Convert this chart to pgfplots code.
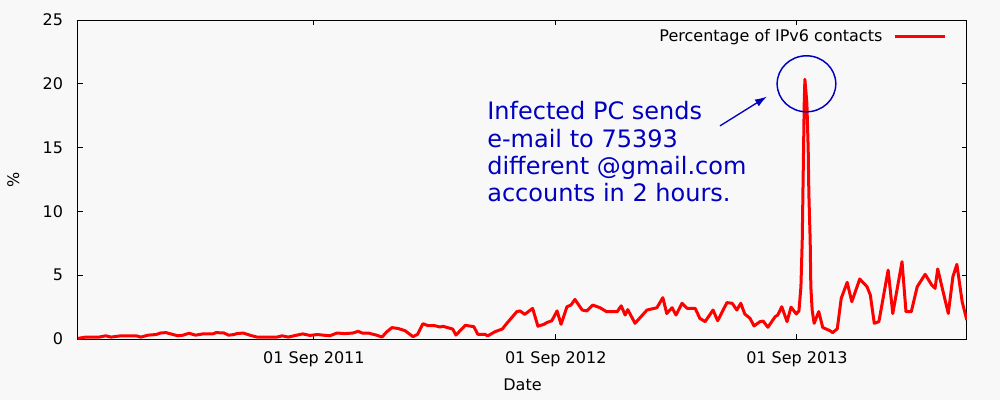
\documentclass[border=0pt]{standalone}
\usepackage{fontspec}
\setmainfont{DejaVu Sans}
\usepackage{pgfplots}
\pgfplotsset{compat=1.18}
\usetikzlibrary{arrows.meta}
\definecolor{bg}{RGB}{248,248,248}
\definecolor{annblue}{RGB}{0,0,190}
\begin{document}
\begin{tikzpicture}
\path[fill=bg,use as bounding box] (-58.5pt,-45.75pt) rectangle (691.5pt,254.25pt);
\begin{axis}[
  at={(0pt,0pt)}, anchor=south west,
  scale only axis, width=666.75pt, height=239.25pt,
  xmin=-357, xmax=988.3, ymin=0, ymax=25,
  xtick={0,366,731},
  xticklabels={01 Sep 2011, 01 Sep 2012, 01 Sep 2013},
  ytick={0,5,10,15,20,25},
  minor tick num=0,
  tick align=inside, xtick pos=both, ytick pos=both,
  major tick length=3.75pt,
  every tick/.style={black, line width=0.75pt},
  axis line style={black, line width=0.75pt},
  /pgf/number format/assume math mode=true,
  font=\fontsize{12}{14.4}\selectfont,
  ticklabel style={font=\fontsize{12}{14.4}\selectfont},
  yticklabel style={anchor=east, inner sep=0pt, xshift=-11pt},
  xticklabel style={anchor=north, inner sep=0pt, yshift=-9pt},
  xlabel={Date},
  ylabel={\%},
  xlabel style={at={(axis description cs:0.5,0)}, anchor=center, yshift=-34.5pt},
  ylabel style={at={(axis description cs:0,0.5)}, anchor=center, inner sep=0pt, yshift=48.5pt},
  legend plot pos=right,
  legend style={at={(axis description cs:1,1)}, anchor=north east, draw=none, fill=none,
    inner sep=0pt, xshift=-15.5pt, yshift=-6.5pt, column sep=8pt,
    nodes={inner sep=0pt}, font=\fontsize{12}{14.4}\selectfont},
  legend image code/.code={\draw[#1] (0pt,0pt) -- (37.5pt,0pt);},
  clip mode=individual,
]
\addplot[red, line width=2.25pt, line join=round] coordinates {
(-357,0.05) (-345,0.15) (-325,0.15) (-315,0.25) (-307,0.15) (-292,0.25) (-269,0.25)
(-262,0.15) (-251,0.3) (-239,0.35) (-232,0.47) (-224,0.5) (-213,0.35) (-206,0.25)
(-198,0.3) (-189,0.45) (-179,0.3) (-168,0.4) (-153,0.4) (-148,0.5) (-136,0.47)
(-129,0.3) (-121,0.35) (-117,0.42) (-107,0.47) (-97,0.3) (-86,0.15) (-56,0.15)
(-48,0.25) (-39,0.15) (-26,0.3) (-17,0.4) (-6,0.28) (5,0.35) (24,0.25) (35,0.47)
(47,0.42) (59,0.47) (67,0.6) (74,0.45) (82,0.47) (95,0.3) (103,0.15) (110,0.55)
(118,0.89) (127,0.83) (138,0.65) (150,0.18) (157,0.37) (165,1.2) (173,1.04)
(183,1.04) (191,0.94) (195,1.0) (210,0.78) (215,0.31) (229,1.07) (242,0.97)
(248,0.37) (259,0.37) (263,0.24) (274,0.57) (285,0.78) (292,1.23) (307,2.14)
(312,2.2) (319,1.93) (331,2.4) (339,1.0) (348,1.15) (353,1.3) (360,1.43) (368,2.2)
(374,1.15) (383,2.53) (389,2.66) (395,3.1) (406,2.27) (413,2.2) (422,2.66)
(433,2.45) (443,2.14) (459,2.14) (465,2.6) (471,1.88) (475,2.3) (486,1.23)
(504,2.27) (519,2.45) (528,3.24) (534,2.0) (542,2.45) (548,1.88) (557,2.8)
(565,2.4) (577,2.4) (584,1.62) (592,1.36) (604,2.27) (611,1.43) (625,2.85)
(633,2.8) (640,2.27) (646,2.8) (652,1.96) (660,1.62) (666,1.02) (675,1.36)
(680,1.4) (687,0.92) (698,1.75) (702,1.88) (708,2.53) (716,1.36) (722,2.5)
(730,1.96) (734,2.2) (737,4.1) (739,7.76) (740,11.4) (741,14.9) (742,18.5)
(743,20.35) (746,18.5) (748,14.9) (749,11.4) (751,7.76) (752,4.1) (754,2.27)
(757,1.23) (764,2.15) (770,0.9) (781,0.65) (785,0.5) (792,0.8) (798,3.19)
(807,4.44) (814,2.92) (826,4.7) (837,4.1) (842,3.45) (848,1.23) (855,1.36)
(869,5.4) (876,2.0) (890,6.06) (896,2.14) (904,2.14) (913,4.1) (925,5.07)
(935,4.23) (940,3.97) (944,5.49) (960,2.0) (967,4.88) (973,5.85) (981,2.92)
(988,1.49)
};
\addlegendentry{Percentage of IPv6 contacts}
\draw[annblue, line width=1.1pt] (axis cs:745.4,20) ellipse [x radius=22pt, y radius=21pt];
\draw[annblue, line width=1pt, -{Latex[length=9pt,width=6pt]}] (axis cs:614.5,16.7) -- (axis cs:685.6,19.0);
\node[annblue, anchor=base west, inner sep=0pt, align=left,
  font=\fontsize{18}{20.6}\selectfont] at (axis cs:262,10.74)
  {Infected PC sends\\e-mail to 75393\\different @gmail.com\\accounts in 2 hours.};
\end{axis}
\end{tikzpicture}
\end{document}
